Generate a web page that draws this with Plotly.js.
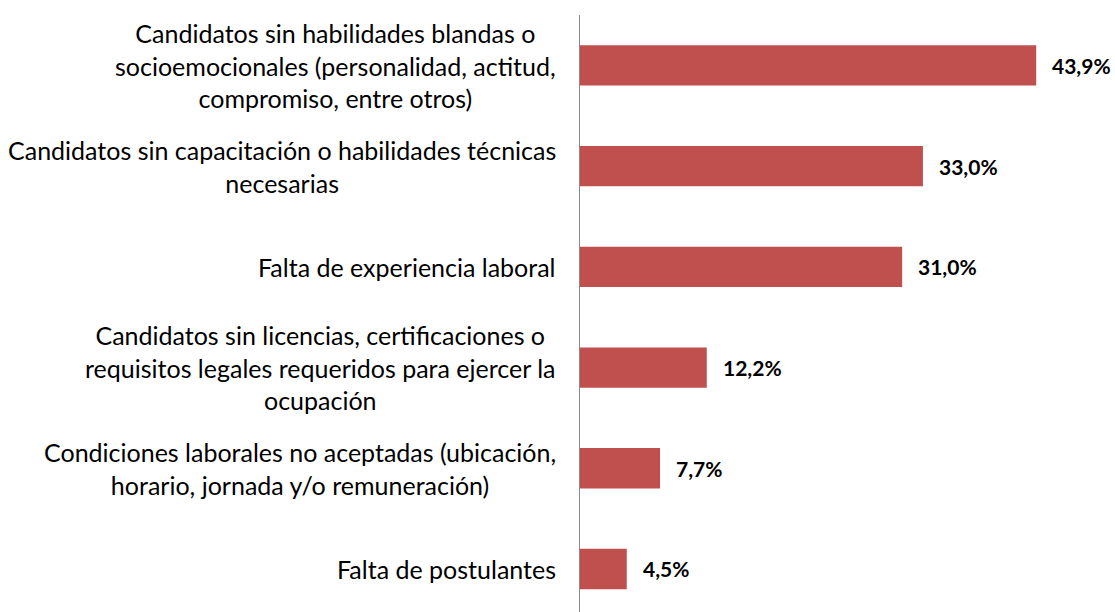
<!DOCTYPE html>
<html>
<head>
<meta charset="utf-8">
<script src="https://cdn.plot.ly/plotly-3.0.1.min.js"></script>
<style>html,body{margin:0;padding:0;background:#fff;}#chart{width:1115px;height:612px;}</style>
</head>
<body>
<div id="chart"></div>
<script>
const categories = [
  "Candidatos sin habilidades blandas o<br>socioemocionales (personalidad, actitud,<br>compromiso, entre otros)",
  "Candidatos sin capacitación o habilidades técnicas<br>necesarias",
  "Falta de experiencia laboral",
  "Candidatos sin licencias, certificaciones o<br>requisitos legales requeridos para ejercer la<br>ocupación",
  "Condiciones laborales no aceptadas (ubicación,<br>horario, jornada y/o remuneración)",
  "Falta de postulantes"
];
const values = [43.9, 33.0, 31.0, 12.2, 7.7, 4.5];
const valueLabels = ["43,9%", "33,0%", "31,0%", "12,2%", "7,7%", "4,5%"];

const FONT = "Lato, 'Open Sans', sans-serif";

const trace = {
  type: "bar",
  orientation: "h",
  x: values,
  y: categories,
  marker: { color: "#C0504D" },
  hoverinfo: "none"
};

const annotations = [];
categories.forEach((c, i) => {
  annotations.push({
    xref: "paper", yref: "y", x: 0, y: c,
    xanchor: "right", yanchor: "middle", xshift: -22,
    align: "center", showarrow: false, text: c,
    font: { family: FONT, size: 25, color: "#000" }
  });
  annotations.push({
    xref: "x", yref: "y", x: values[i], y: c,
    xanchor: "left", yanchor: "middle", xshift: 14,
    showarrow: false, text: "<b>" + valueLabels[i] + "</b>",
    font: { family: FONT, size: 21, color: "#000" }
  });
});

const layout = {
  width: 1115, height: 612,
  margin: { l: 580, r: 5, t: 15, b: 0, pad: 0 },
  paper_bgcolor: "#fff", plot_bgcolor: "#fff",
  showlegend: false,
  bargap: 0.6,
  font: { family: FONT, color: "#000" },
  xaxis: { range: [0, 51], showgrid: false, zeroline: false, showline: false, showticklabels: false, ticks: "" },
  yaxis: {
    type: "category", categoryorder: "array", categoryarray: categories,
    range: [5.427, -0.5],
    showgrid: false, zeroline: false, showline: true, linecolor: "#888888", linewidth: 1,
    showticklabels: false, ticks: ""
  },
  annotations: annotations
};

Plotly.newPlot("chart", [trace], layout, { displayModeBar: false, staticPlot: true });
</script>
</body>
</html>
